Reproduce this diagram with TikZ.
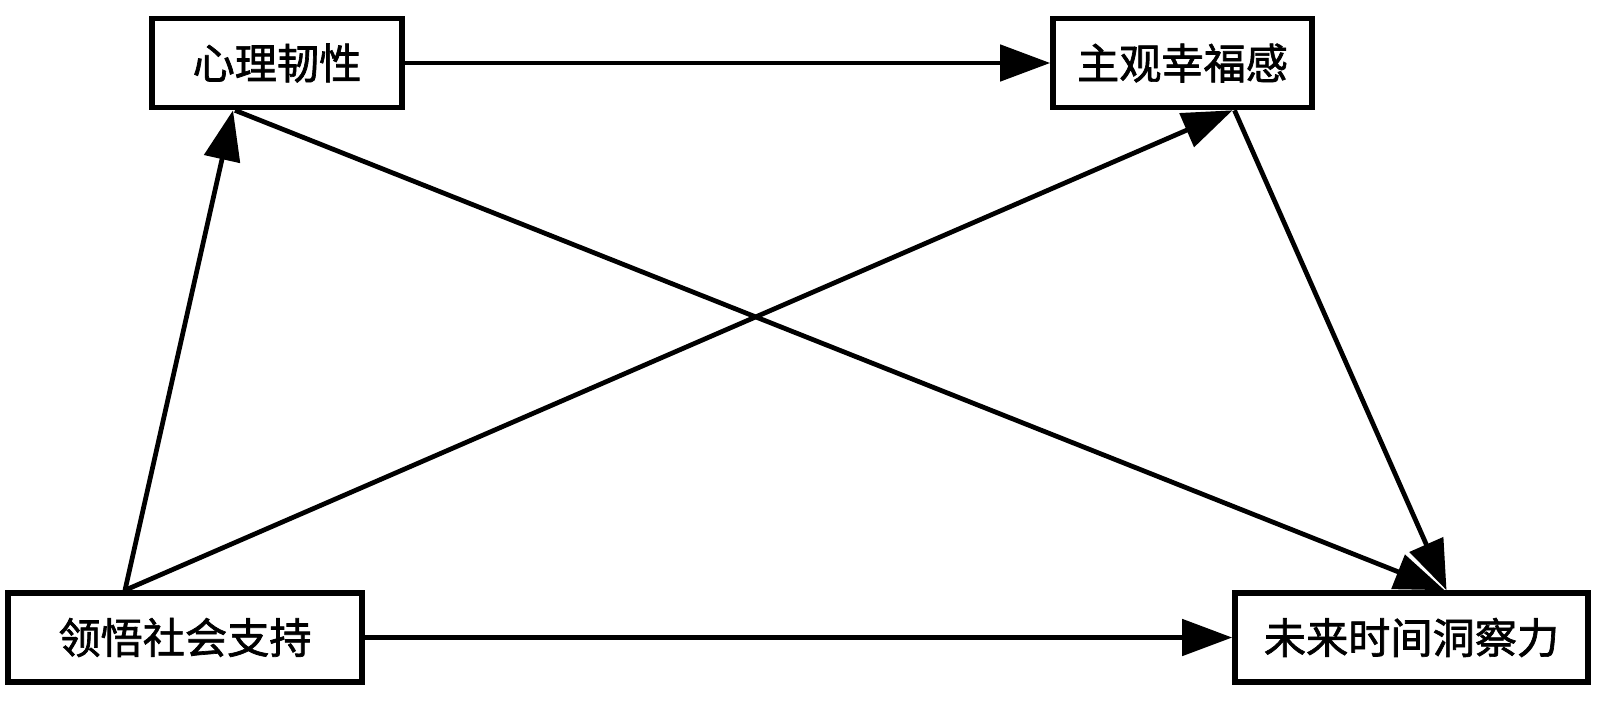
\documentclass[tikz,border=0pt]{standalone}
\usepackage{fontspec}
\newfontfamily\cjk[FakeBold=1.6]{Noto Sans CJK SC}
\usetikzlibrary{arrows.meta}
\tikzset{
  box/.style={draw=black, line width=1.6pt, fill=white, inner sep=0pt, minimum height=0.89cm,
    font=\cjk\fontsize{12}{14}\selectfont},
  conn/.style={line width=1.35pt, -{Triangle[length=0.5cm,width=0.36cm]}}
}
\begin{document}
\begin{tikzpicture}
\useasboundingbox (0,0) rectangle (16,-7.21);
\node[box, minimum width=2.50cm] (res) at (2.77,-0.63) {心理韧性};
\node[box, minimum width=2.59cm] (swb) at (11.825,-0.63) {主观幸福感};
\node[box, minimum width=3.54cm] (pss) at (1.85,-6.375) {领悟社会支持};
\node[box, minimum width=3.53cm] (ftp) at (14.115,-6.375) {未来时间洞察力};
\draw[conn] (res.east) -- (swb.west);
\draw[conn] (pss.east) -- (ftp.west);
\draw[conn] ([xshift=-0.6cm]pss.north) -- ([xshift=-0.44cm]res.south);
\draw[conn] ([xshift=-0.6cm]pss.north) -- ([xshift=0.5cm]swb.south);
\draw[conn] ([xshift=-0.42cm]res.south) -- ([xshift=0.33cm]ftp.north);
\draw[conn] ([xshift=0.52cm]swb.south) -- ([xshift=0.35cm]ftp.north);
\end{tikzpicture}
\end{document}
